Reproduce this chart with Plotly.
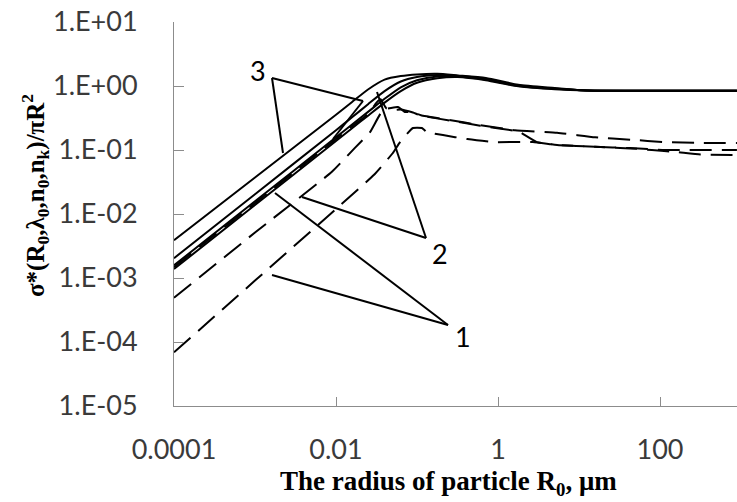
import plotly.graph_objects as go

# ---- data ----
# x: particle radius R0, um
x_solid = [0.0001, 0.001, 0.01, 0.0158, 0.0251, 0.0398, 0.0631, 0.1, 0.178, 0.316,
           0.708, 1.78, 5.01, 12.6, 100, 891]
s_curve3 = [0.00389, 0.0372, 0.355, 0.562, 0.891, 1.259, 1.429, 1.514, 1.549, 1.462,
            1.334, 1.047, 0.933, 0.851, 0.841, 0.841]
s_curve2 = [0.00204, 0.0204, 0.204, 0.324, 0.525, 0.832, 1.175, 1.380, 1.479, 1.445,
            1.288, 1.023, 0.912, 0.851, 0.841, 0.841]
s_curve2b = [0.00158, 0.0158, 0.158, 0.251, 0.398, 0.631, 0.955, 1.230, 1.413, 1.413,
             1.259, 1.000, 0.902, 0.851, 0.841, 0.841]
s_curve1 = [0.00138, 0.0138, 0.138, 0.219, 0.347, 0.550, 0.832, 1.122, 1.318, 1.380,
            1.230, 0.989, 0.891, 0.851, 0.841, 0.841]

x_dash2 = [0.0001, 0.001, 0.0089, 0.017, 0.0263, 0.038, 0.0582, 0.0708, 0.0891, 0.112,
           0.251, 0.603, 1.62, 5.37, 15.8, 42.7, 115, 316, 891]
d_curve2 = [0.00049, 0.00513, 0.0457, 0.107, 0.19, 0.42, 0.47, 0.393, 0.39, 0.35,
            0.295, 0.245, 0.204, 0.186, 0.158, 0.145, 0.133, 0.129, 0.129]

x_dash1 = [0.0001, 0.001, 0.01, 0.0295, 0.0501, 0.0617, 0.0891, 0.115, 0.132, 0.209,
           0.417, 0.871, 2.69, 5.37, 15.8, 42.7, 115, 891]
d_curve1 = [0.000069, 0.00091, 0.012, 0.041, 0.089, 0.133, 0.221, 0.221, 0.191, 0.171,
            0.148, 0.133, 0.133, 0.12, 0.112, 0.107, 0.10, 0.10]

x_dash3 = [0.0001, 0.001, 0.01, 0.0158, 0.0251, 0.0316, 0.0355, 0.0417, 0.0501, 0.0631,
           0.0891, 0.112, 0.251, 0.603, 1.62, 1.74, 3.02, 5.37, 15.8, 42.7, 79.4, 158, 316, 891]
d_curve3 = [0.00148, 0.0148, 0.148, 0.235, 0.37, 0.55, 0.62, 0.45, 0.42, 0.43,
            0.385, 0.345, 0.29, 0.24, 0.2, 0.2, 0.133, 0.12, 0.112, 0.106, 0.1, 0.093, 0.085, 0.083]

y_tickvals = [1e-5, 1e-4, 1e-3, 1e-2, 1e-1, 1, 10]
y_ticktext = ["1.E-05", "1.E-04", "1.E-03", "1.E-02", "1.E-01", "1.E+00", "1.E+01"]
x_tickvals = [0.0001, 0.01, 1, 100]
x_ticktext = ["0.0001", "0.01", "1", "100"]

curve_labels = ["1", "2", "3"]

# ---- figure ----
fig = go.Figure()
solid = dict(color="black", width=2, shape="spline", smoothing=0.6)
dashed = dict(color="black", width=2, dash="22px,10px", shape="spline", smoothing=0.4)

for ys in (s_curve3, s_curve2, s_curve2b, s_curve1):
    fig.add_trace(go.Scatter(x=x_solid, y=ys, mode="lines", line=solid, hoverinfo="skip"))
fig.add_trace(go.Scatter(x=x_dash2, y=d_curve2, mode="lines", line=dashed, hoverinfo="skip"))
fig.add_trace(go.Scatter(x=x_dash1, y=d_curve1, mode="lines", line=dashed, hoverinfo="skip"))
fig.add_trace(go.Scatter(x=x_dash3, y=d_curve3, mode="lines", line=dashed, hoverinfo="skip"))

W, H = 737, 502
L, R, T, B = 174, 0, 22, 96
pw, ph = W - L - R, H - T - B


def fx(px):
    return (px - L) / pw


def fy(py):
    return (H - B - py) / ph


tickfont = dict(family="Lato, Open Sans, sans-serif", size=27, color="#3a3a3a")
fig.update_layout(
    width=W, height=H, margin=dict(l=L, r=R, t=T, b=B),
    paper_bgcolor="white", plot_bgcolor="white", showlegend=False,
    xaxis=dict(type="log", range=[-4, -4 + pw / 81.0], tickvals=x_tickvals, ticktext=x_ticktext,
               ticks="inside", ticklen=9, tickcolor="#8c8c8c", showline=True, linecolor="#8c8c8c",
               linewidth=1, showgrid=False, zeroline=False, tickfont=tickfont, ticklabelstandoff=20),
    yaxis=dict(type="log", range=[-5, 1], tickvals=y_tickvals, ticktext=y_ticktext,
               ticks="inside", ticklen=10, tickcolor="#8c8c8c", showline=True, linecolor="#8c8c8c",
               linewidth=1, showgrid=False, zeroline=False, tickfont=tickfont, ticklabelstandoff=30),
)

# leader lines for curve labels (pixel positions in the picture -> paper fractions)
leaders = [
    ((272, 78), (363, 101)), ((363, 101), (333, 139)), ((272, 78), (283, 153)),
    ((426, 238), (302, 197)), ((426, 238), (377, 92)),
    ((448, 325), (275, 193)), ((448, 325), (272, 275)),
]
for (a, b) in leaders:
    fig.add_shape(type="line", xref="paper", yref="paper", x0=fx(a[0]), y0=fy(a[1]),
                  x1=fx(b[0]), y1=fy(b[1]), line=dict(color="black", width=2))

label_pos = [(463, 336), (440, 253), (258, 70)]
for txt, (px, py) in zip(curve_labels, label_pos):
    fig.add_annotation(text=txt, xref="paper", yref="paper", x=fx(px), y=fy(py),
                       showarrow=False, xanchor="center", yanchor="middle",
                       font=dict(family="Lato, Open Sans, sans-serif", size=27, color="black"))

serif_x = dict(family="Liberation Serif, Times New Roman, serif", size=27, color="black")
serif_y = dict(family="Liberation Serif, Times New Roman, serif", size=25, color="black")
fig.add_annotation(text="<b>The radius of particle R<sub>0</sub>, μm</b>", xref="paper", yref="paper",
                   x=fx(448), y=fy(483), showarrow=False, xanchor="center", yanchor="middle", font=serif_x)
fig.add_annotation(text="<b>σ*(R<sub>0</sub>,λ<sub>0</sub>,n<sub>0</sub>,n<sub>k</sub>)/πR<sup>2</sup></b>",
                   xref="paper", yref="paper", x=fx(35), y=fy(196), textangle=-90,
                   showarrow=False, xanchor="center", yanchor="middle", font=serif_y)

fig.write_html("out.html", config={"displayModeBar": False},
               post_script="document.body.style.margin='0';document.body.style.overflow='hidden';")
